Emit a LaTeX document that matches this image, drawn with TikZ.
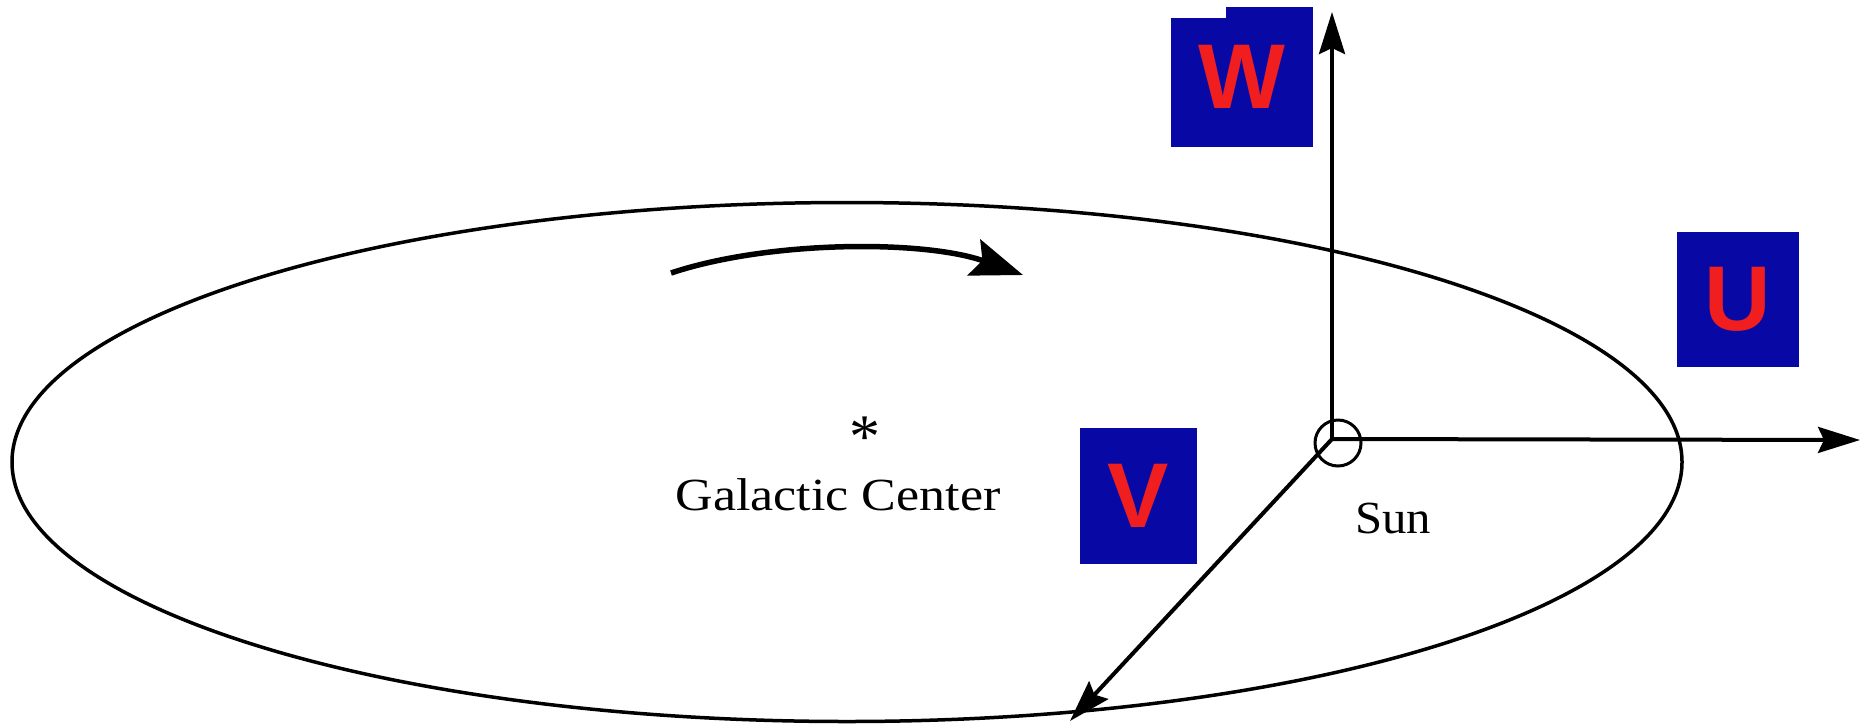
\documentclass[tikz,border=0pt]{standalone}
\usepackage{fontspec}
\setmainfont{Liberation Serif}
\newfontfamily\arialfont{Liberation Sans}
\usetikzlibrary{arrows.meta}
\definecolor{boxblue}{RGB}{8,8,165}
\definecolor{letterred}{RGB}{240,30,30}
\tikzset{
  letterbox/.style={fill=boxblue, draw=none, inner sep=0pt,
    text=letterred, font=\arialfont\bfseries\fontsize{92}{92}\selectfont},
  axis/.style={line width=4pt, -{Stealth[length=42pt,width=26pt,inset=6pt]}},
  orbit/.style={line width=3.5pt},
  lbl/.style={inner sep=0pt, font=\fontsize{46}{50}\selectfont},
}
\begin{document}
\begin{tikzpicture}[x=1pt,y=-1pt]
\useasboundingbox (0,0) rectangle (1860,724);
% galactic disc
\draw[orbit] (847,462) ellipse [x radius=835, y radius=259.5];
% rotation arrow
\coordinate (rotA) at (671,273);
\coordinate (rotB) at (1023,275);
\draw[line width=5.5pt, -{Stealth[length=52pt,width=38pt,inset=9pt]}]
  (rotA) .. controls (770,240) and (925,240) .. (rotB);
% galactic centre (marker and label)
\node[inner sep=0pt, anchor=base, font=\fontsize{62}{62}\selectfont] (gcstar) at (865,457) {*};
\node[lbl, anchor=base] (gc) at (838,510) {\scalebox{1.13}[1]{Galactic Center}};
% sun and axes
\coordinate (o) at (1332,439);
\node[draw, circle, line width=3pt, minimum size=46pt, inner sep=0pt] (sun) at (1338,443) {};
\coordinate (utip) at (1860,440);
\coordinate (wtip) at (1332,12);
\coordinate (vtip) at (1070,721);
\draw[axis] (o) -- (utip);
\draw[axis] (o) -- (wtip);
\draw[axis] (o) -- (vtip);
\node[lbl, anchor=base west] (sunlbl) at (1355,533) {\scalebox{1.06}[1]{Sun}};
% velocity labels
\node[letterbox, minimum width=142pt, minimum height=140pt] (W) at (1242,77) {W};
\fill[white] (1171,7) rectangle (1226,18);
\node[letterbox, minimum width=122pt, minimum height=135pt] (U) at (1738,299.5) {U};
\node[letterbox, minimum width=117pt, minimum height=136pt] (V) at (1138.5,496) {V};
\end{tikzpicture}
\end{document}
